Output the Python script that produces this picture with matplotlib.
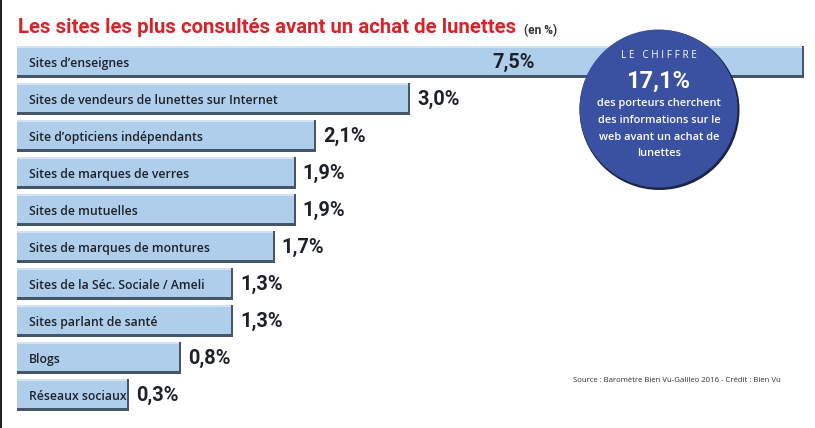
import matplotlib
matplotlib.use("Agg")
import matplotlib.pyplot as plt
from matplotlib.patches import Circle, Rectangle
from matplotlib.transforms import ScaledTranslation

categories = ["Sites d’enseignes", "Sites de vendeurs de lunettes sur Internet",
              "Site d’opticiens indépendants", "Sites de marques de verres",
              "Sites de mutuelles", "Sites de marques de montures",
              "Sites de la Séc. Sociale / Ameli", "Sites parlant de santé",
              "Blogs", "Réseaux sociaux"]
values = [7.5, 3.0, 2.1, 1.9, 1.9, 1.7, 1.3, 1.3, 0.8, 0.3]
title = "Les sites les plus consultés avant un achat de lunettes"
unit = "(en %)"
source = "Source : Baromètre Bien Vu-Galileo 2016 - Crédit : Bien Vu"
callout_head = "L E   C H I F F R E"
callout_value = "17,1%"
callout_lines = ["des porteurs cherchent", "des informations sur le",
                 "web avant un achat de", "lunettes"]

W, H = 815, 428
fig = plt.figure(figsize=(W / 100, H / 100), dpi=100, facecolor="white")

# Bar axes: the chart's x axis does not start at zero and the first bar is cut off
L, R, PX_PER_UNIT, ZERO_PX = 17, 804, 104.0, 98.0
T, PITCH = 46, 37.0
ax = fig.add_axes([L / W, 0, (R - L) / W, 1])
ax.set_xlim((L - ZERO_PX) / PX_PER_UNIT, (R - ZERO_PX) / PX_PER_UNIT)
ax.set_ylim((H - T - 16) / PITCH, (-T - 16) / PITCH)
ax.axis("off")
x0 = ax.get_xlim()[0]
rows = list(range(len(values)))
widths = [v - x0 for v in values]
px = 1 / PITCH
ax.barh(rows, widths, left=x0, height=32 * px, color="#46566A", linewidth=0)
shift = ScaledTranslation(-2 / 100, 0, fig.dpi_scale_trans)
ax.barh([r - 1.5 * px for r in rows], widths, left=x0, height=29 * px, color="#D3E3F3",
        linewidth=0, transform=ax.transData + shift)
ax.barh([r - 0.5 * px for r in rows], widths, left=x0, height=27 * px, color="#AFCEEC",
        linewidth=0, transform=ax.transData + shift)

font = ["Open Sans", "DejaVu Sans"]
bold = ["Roboto", "DejaVu Sans"]
for r, (c, v) in enumerate(zip(categories, values)):
    ax.annotate(c, (x0, r), xytext=(12 * 0.72, -1.2 * 0.72), textcoords="offset points", va="center",
                ha="left", fontsize=8.85, color="#1E2228", family=font, fontweight="semibold")
    label = f"{v:.1f}".replace(".", ",") + "%"
    anchor = x0 if r == 0 else v
    offset = 475 if r == 0 else 7
    ax.annotate(label, (anchor, r), xytext=(offset * 0.72, -0.8 * 0.72), textcoords="offset points",
                va="center", ha="left", fontsize=14.4, color="#1E2228", family=bold,
                fontweight="semibold")

# Overlay in pixel coordinates for the frame, title and callout
ov = fig.add_axes([0, 0, 1, 1], zorder=5)
ov.set_xlim(0, W)
ov.set_ylim(H, 0)
ov.axis("off")
ov.patch.set_alpha(0)
ov.add_patch(Rectangle((0, 0), 1.5, H, color="#222222", linewidth=0))
ov.text(18, 33, title, fontsize=14.7, fontweight="bold", color="#D8232A", family=bold, va="baseline")
ov.text(524, 34, unit, fontsize=8.6, fontweight="bold", color="#333333", family=bold, va="baseline")
ov.text(781, 381, source, fontsize=5.55, color="#333333", family=font, ha="right", va="center")

ov.add_patch(Circle((659.5, 110), 80, color="#1B2547", linewidth=0))
ov.add_patch(Circle((658.5, 108.5), 79, color="#3A50A1", linewidth=0))
ov.text(659, 55, callout_head, fontsize=7.2, color="white", family=font,
        ha="center", va="center", fontweight="medium")
ov.text(658, 81, callout_value, fontsize=17, color="white", family=bold, ha="center",
        va="center", fontweight="bold")
for i, line in enumerate(callout_lines):
    ov.text(659, 103 + i * 17, line, fontsize=7.95, color="white", family=font, ha="center",
            va="center", fontweight="semibold")

# Right bevel of the cut-off first bar
ax.add_patch(Rectangle((1 - 2 / (R - L), 1 - (T + 32) / H), 2 / (R - L), 32 / H,
                       transform=ax.transAxes, color="#46566A", linewidth=0, zorder=3))

fig.savefig("out.png", dpi=100, facecolor="white")
